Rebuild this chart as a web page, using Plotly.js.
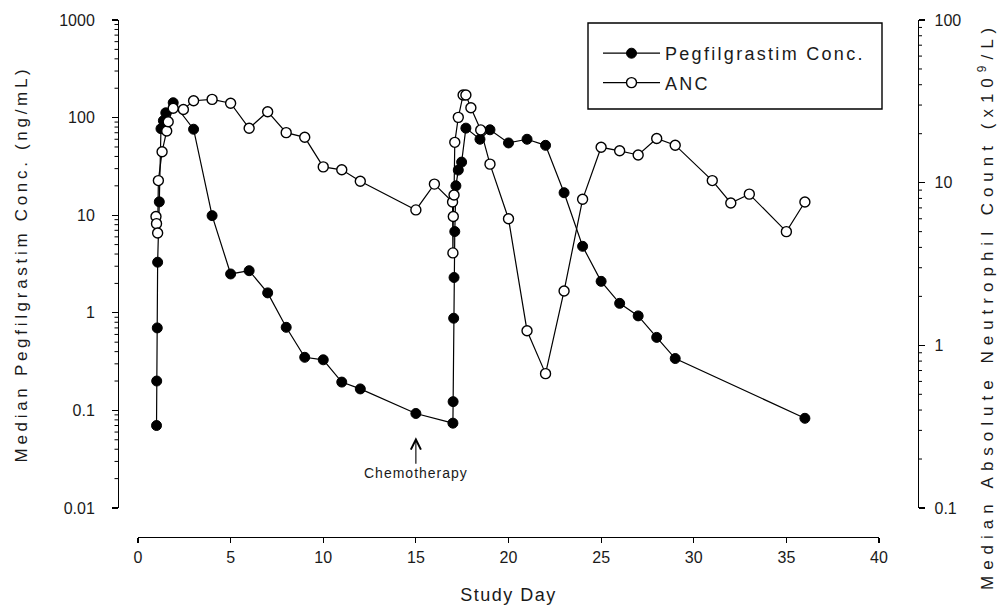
<!DOCTYPE html>
<html>
<head>
<meta charset="utf-8">
<script src="https://cdn.plot.ly/plotly-3.0.1.min.js"></script>
<style>
  html, body { margin: 0; padding: 0; background: #fff; }
  #chart { width: 1000px; height: 607px; }
  .ytitle { letter-spacing: 3.7px; }
  .xtitle { letter-spacing: 1.5px; }
  .legendtext { letter-spacing: 2.3px; }
  .annotation[data-index="0"] .annotation-text { letter-spacing: 1px; }
  .annotation[data-index="1"] .annotation-text { letter-spacing: 6px; }
</style>
</head>
<body>
<div id="chart"></div>
<script>
// ---- data ----
const pegDay = [1.0, 1.01, 1.04, 1.06, 1.15, 1.24, 1.37, 1.5, 1.9, 3, 4, 5, 6, 7, 8, 9, 10, 11, 12, 15,
                17.0, 17.01, 17.04, 17.06, 17.1, 17.16, 17.29, 17.47, 17.7, 18.46, 19, 20, 21, 22, 23, 24, 25, 26, 27, 28, 29, 36];
const pegConc = [0.07, 0.2, 0.7, 3.3, 13.7, 77, 93, 112, 142, 76, 9.9, 2.5, 2.7, 1.6, 0.71, 0.35, 0.33, 0.195, 0.166, 0.093,
                 0.074, 0.123, 0.88, 2.3, 6.8, 20, 29, 35, 78, 60, 75, 55, 60, 52, 17, 4.8, 2.1, 1.25, 0.93, 0.56, 0.34, 0.083];

const ancDay = [0.97, 1.0, 1.06, 1.1, 1.3, 1.55, 1.63, 1.9, 2.45, 3, 4, 5, 6, 7, 8, 9, 10, 11, 12, 15, 16,
                16.98, 17.0, 17.02, 17.06, 17.1, 17.29, 17.55, 17.7, 17.97, 18.5, 19, 20, 21, 22, 23, 24, 25, 26, 27, 28, 29, 31, 32, 33, 35, 36];
const ancCount = [6.2, 5.6, 4.9, 10.3, 15.5, 20.8, 23.7, 28.7, 28.2, 31.9, 32.5, 30.8, 21.6, 27.3, 20.3, 19, 12.5, 12, 10.2, 6.8, 9.8,
                  7.6, 3.7, 6.2, 8.4, 17.7, 25.2, 34.6, 34.6, 28.9, 21.1, 13, 6.0, 1.23, 0.67, 2.16, 7.9, 16.5, 15.7, 14.8, 18.7, 17, 10.3, 7.5, 8.5, 5.0, 7.6];

const xTickVals = [0, 5, 10, 15, 20, 25, 30, 35, 40];
const xTickText = ['0', '5', '10', '15', '20', '25', '30', '35', '40'];
const yTickVals = [0.01, 0.1, 1, 10, 100, 1000];
const yTickText = ['0.01', '0.1', '1', '10', '100', '1000'];
const yMinorTicks = [0.02, 0.03, 0.04, 0.05, 0.06, 0.07, 0.08, 0.09,
                     0.2, 0.3, 0.4, 0.5, 0.6, 0.7, 0.8, 0.9,
                     2, 3, 4, 5, 6, 7, 8, 9,
                     20, 30, 40, 50, 60, 70, 80, 90,
                     200, 300, 400, 500, 600, 700, 800, 900];
const y2TickVals = [0.1, 1, 10, 100];
const y2TickText = ['0.1', '1', '10', '100'];
const y2MinorTicks = [0.2, 0.3, 0.4, 0.5, 0.6, 0.7, 0.8, 0.9,
                      2, 3, 4, 5, 6, 7, 8, 9,
                      20, 30, 40, 50, 60, 70, 80, 90];

const seriesNames = ['Pegfilgrastim Conc.', 'ANC'];
const xTitle = 'Study Day';
const yTitle = 'Median Pegfilgrastim Conc. (ng/mL)';
const y2Title = 'Median Absolute Neutrophil Count (x10<sup>9</sup>/L)';
const chemoDay = 15;
const chemoLabel = 'Chemotherapy';

// ---- chart ----
const FONT = 'Liberation Sans, Arial, sans-serif';
const INK = '#1a1a1a';

const traces = [
  {
    x: pegDay, y: pegConc, name: seriesNames[0], yaxis: 'y',
    type: 'scatter', mode: 'lines+markers',
    line: {color: '#000', width: 1.2},
    marker: {symbol: 'circle', size: 10, color: '#000', line: {color: '#000', width: 1}},
    legendgroup: 'a'
  },
  {
    x: ancDay, y: ancCount, name: seriesNames[1], yaxis: 'y2',
    type: 'scatter', mode: 'lines+markers',
    line: {color: '#000', width: 1.2},
    marker: {symbol: 'circle', size: 10, color: '#fff', line: {color: '#000', width: 1.4}},
    legendgroup: 'b'
  }
];

const W = 800, H = 517;
const Y_DOMAIN = [29 / H, 1];

// minor tick marks along the two log axes (axis lines sit at paper x = 0 and 1)
const minorTickShapes = [].concat(
  yMinorTicks.map(v => ({type: 'line', xref: 'paper', yref: 'y', x0: 0, x1: -3.5 / W,
                         y0: v, y1: v, line: {color: '#000', width: 1}})),
  y2MinorTicks.map(v => ({type: 'line', xref: 'paper', yref: 'y2', x0: 1, x1: 1 + 4 / W,
                          y0: v, y1: v, line: {color: '#000', width: 1}}))
);

const layout = {
  width: 1000, height: 607,
  margin: {l: 118, r: 82, t: 20, b: 70, pad: 0},
  paper_bgcolor: '#fff', plot_bgcolor: '#fff',
  font: {family: FONT, color: INK, size: 16},
  showlegend: true,
  legend: {
    x: (598 - 118) / W, y: (537 - 35) / H, xanchor: 'left', yanchor: 'top',
    bgcolor: 'rgba(0,0,0,0)', borderwidth: 0,
    font: {family: FONT, size: 18, color: INK},
    itemwidth: 57, tracegroupgap: 3, traceorder: 'grouped'
  },
  xaxis: {
    domain: [20 / W, 761 / W], range: [0, 40],
    anchor: 'free', position: 0,
    showline: true, linecolor: '#000', linewidth: 1.3,
    ticks: 'outside', ticklen: 5, tickwidth: 1.2, tickcolor: '#000',
    tickmode: 'array', tickvals: xTickVals, ticktext: xTickText,
    tickfont: {family: FONT, size: 16, color: INK},
    showgrid: false, zeroline: false,
    title: {text: xTitle, font: {family: FONT, size: 18, color: INK}, standoff: 24}
  },
  yaxis: {
    type: 'log', range: [-2, 3], domain: Y_DOMAIN,
    anchor: 'free', position: 0,
    showline: true, linecolor: '#000', linewidth: 1.3,
    ticks: 'outside', ticklen: 6, tickwidth: 1.2, tickcolor: '#000',
    tickmode: 'array', tickvals: yTickVals, ticktext: yTickText,
    ticklabelstandoff: 14,
    tickfont: {family: FONT, size: 16, color: INK},
    showgrid: false, zeroline: false,
    title: {text: yTitle, font: {family: FONT, size: 17, color: INK}, standoff: 26}
  },
  yaxis2: {
    type: 'log', range: [-1, 2],
    overlaying: 'y', side: 'right',
    anchor: 'free', position: 1,
    showline: true, linecolor: '#000', linewidth: 1.3,
    ticks: 'outside', ticklen: 6, tickwidth: 1.2, tickcolor: '#000',
    tickmode: 'array', tickvals: y2TickVals, ticktext: y2TickText,
    ticklabelstandoff: 6,
    tickfont: {family: FONT, size: 16, color: INK},
    showgrid: false, zeroline: false
  },
  shapes: [
    {type: 'rect', xref: 'paper', yref: 'paper',
     x0: (588 - 118) / W, x1: (882 - 118) / W, y0: (537 - 109) / H, y1: (537 - 23) / H,
     line: {color: '#000', width: 1.4}, fillcolor: 'rgba(0,0,0,0)'}
  ].concat(minorTickShapes),
  annotations: [
    {x: chemoDay, y: Math.log10(0.053), xref: 'x', yref: 'y',
     text: chemoLabel, showarrow: true, arrowhead: 5, arrowsize: 1.8, arrowwidth: 1.1, arrowcolor: '#000',
     ax: 0, ay: 36, standoff: 0,
     font: {family: FONT, size: 14, color: INK}},
    {x: (986 - 118) / W, y: (537 - 306) / H, xref: 'paper', yref: 'paper',
     xanchor: 'center', yanchor: 'middle', textangle: -90, showarrow: false,
     text: y2Title, font: {family: FONT, size: 17, color: INK}}
  ]
};

Plotly.newPlot('chart', traces, layout, {displayModeBar: false, staticPlot: true});
</script>
</body>
</html>
